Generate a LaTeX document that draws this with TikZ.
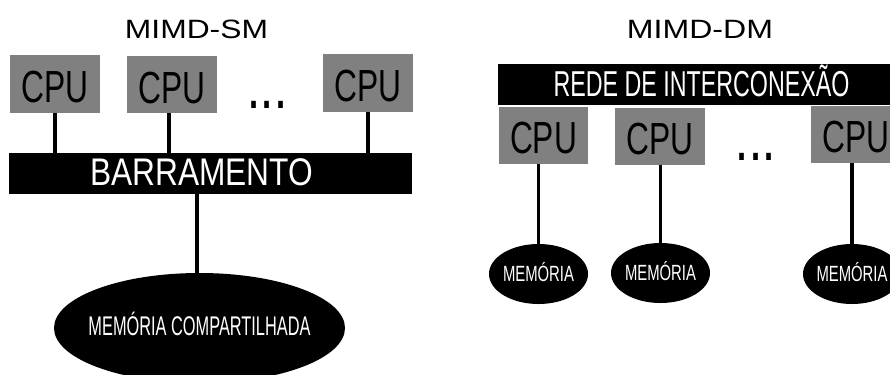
\documentclass[tikz,border=0pt]{standalone}
\usepackage{fontspec}
\setmainfont{Liberation Sans}
\usepackage{graphicx}
\usetikzlibrary{shapes.geometric}

% text set at a given font size (bp) and stretched to a given width (bp)
\newcommand\fitted[3]{\resizebox{#1bp}{\height}{\fontsize{#2bp}{#2bp}\selectfont #3}}
% narrow square dot and a row of three
\newcommand\sqdot{\scalebox{0.68}[1]{.}}
\newcommand\dotrow{{\fontsize{48bp}{48bp}\selectfont\bfseries\sqdot\hspace{4.3bp}\sqdot\hspace{4.3bp}\sqdot}}

\definecolor{cpugray}{RGB}{128,128,128}

\begin{document}
\begin{tikzpicture}[x=1bp,y=-1bp,
  cpubox/.style={rectangle, fill=cpugray, inner sep=0pt, minimum width=90bp,
    minimum height=58bp, text=black, text depth=0pt},
  busbar/.style={rectangle, fill=black, inner sep=0pt, minimum height=41bp,
    text=white, text height=23bp, text depth=0pt},
  memshape/.style={ellipse, fill=black, inner sep=0pt, text=white, text depth=0pt},
  link/.style={line width=3.2bp},
  heading/.style={inner sep=0pt, anchor=base}]
\useasboundingbox (0,0) rectangle (890,374);

% ---------- shared memory (MIMD-SM) ----------
\node[heading] (tsm) at (196.5,38.5) {\fitted{143}{26.5}{MIMD-SM}};

\node[cpubox, text height=37bp] (c1) at (55,84) {\fitted{67}{45}{CPU}};
\node[cpubox, minimum height=57bp, text height=37bp] (c2) at (172,84.5) {\fitted{67}{45}{CPU}};
\node[cpubox, text height=37bp] (c3) at (368,83) {\fitted{67}{45}{CPU}};
\node[inner sep=0pt] (dl) at (267.5,105) {\dotrow};

\node[busbar, minimum width=403bp] (bus) at (210.5,173.5)
  {\fitted{223}{38.5}{BARRAMENTO}\kern17.6bp};

\node[memshape, minimum width=291bp, minimum height=110bp, text height=14bp] (mem)
  at (199.5,328) {\makebox[0pt]{\fitted{222}{27}{MEMÓRIA COMPARTILHADA}}};

\coordinate (c2l) at ([xshift=-3bp]c2.south);
\coordinate (mtop) at ([xshift=-2.5bp]mem.north);
\draw[link] (c1.south) -- (c1.south |- bus.north);
\draw[link] (c2l) -- (c2l |- bus.north);
\draw[link] (c3.south) -- (c3.south |- bus.north);
\draw[link] (mtop |- bus.south) -- (mtop);

% ---------- distributed memory (MIMD-DM) ----------
\node[heading] (tdm) at (700,38.5) {\fitted{146}{26.5}{MIMD-DM}};

\node[busbar, minimum width=407bp] (net) at (701.5,84.5)
  {\fitted{296}{36}{REDE DE INTERCONEXÃO}};

\node[cpubox, minimum width=89bp, minimum height=57bp, text height=35bp] (r1)
  at (543.5,135.5) {\fitted{67}{45}{CPU}};
\node[cpubox, minimum height=57bp, text height=35bp] (r2)
  at (660,136.5) {\fitted{67}{45}{CPU}};
\node[cpubox, minimum height=57bp, text height=35bp] (r3)
  at (856,134.5) {\fitted{67}{45}{CPU}};
\node[inner sep=0pt] (dr) at (755.7,157) {\dotrow};

\node[memshape, minimum width=99bp, minimum height=60bp, text height=15bp] (m1)
  at (538.5,274) {\makebox[0pt]{\fitted{71}{22}{MEMÓRIA}}};
\node[memshape, minimum width=99bp, minimum height=60bp, text height=14bp] (m2)
  at (660.5,273) {\makebox[0pt]{\fitted{71}{22}{MEMÓRIA}}};
\node[memshape, minimum width=98bp, minimum height=60bp, text height=15bp] (m3)
  at (852,274) {\makebox[0pt]{\fitted{71}{22}{MEMÓRIA}}};

\draw[link] (m1.north) -- (m1.north |- r1.south);
\draw[link] (m2.north) -- (m2.north |- r2.south);
\draw[link] (m3.north) -- (m3.north |- r3.south);
\end{tikzpicture}
\end{document}
